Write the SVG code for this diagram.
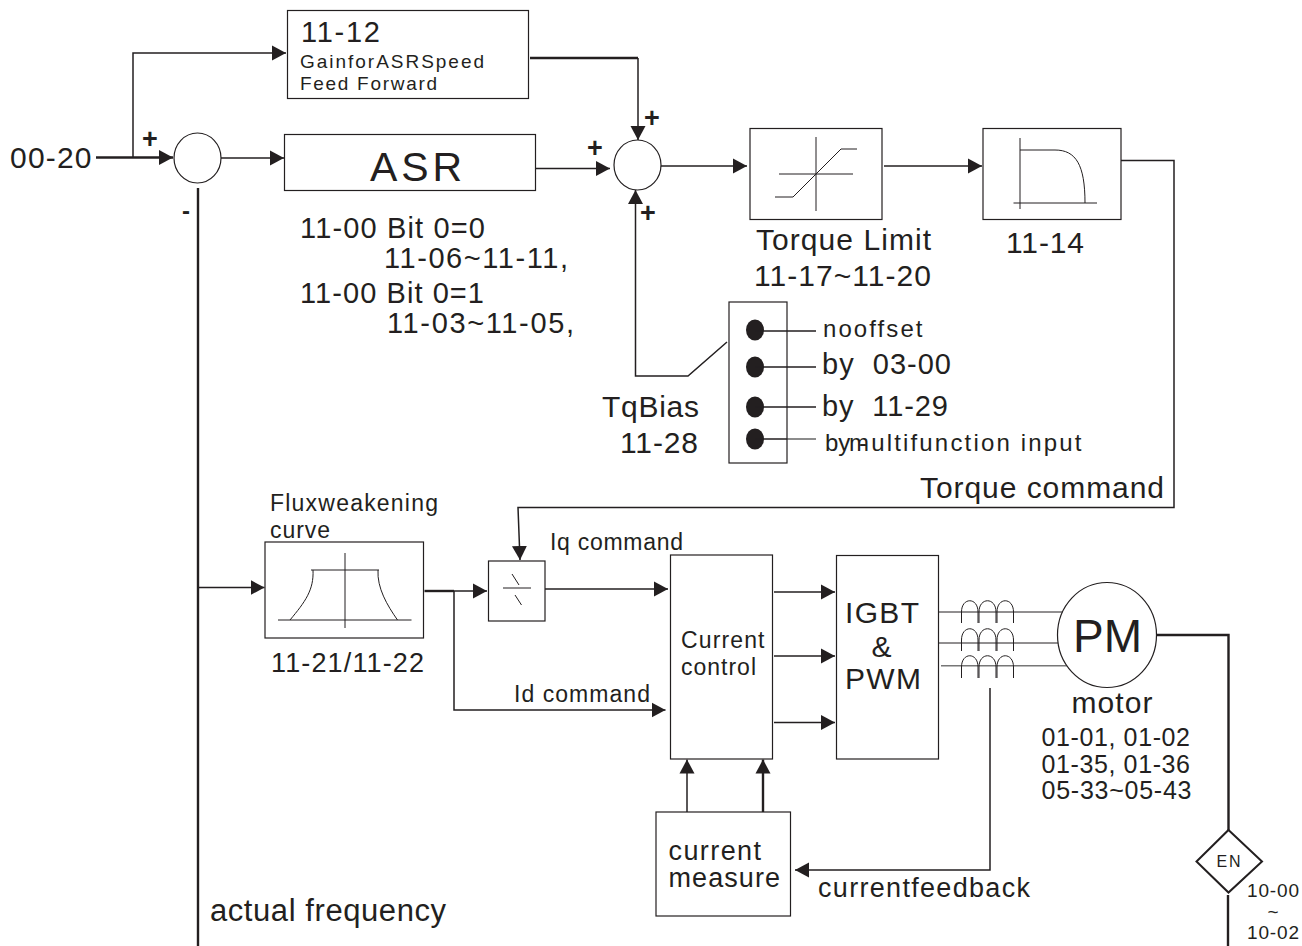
<svg xmlns="http://www.w3.org/2000/svg" width="1302" height="946" viewBox="0 0 1302 946">
<style>
text{font-family:"Liberation Sans",Arial,sans-serif;fill:#231f20}
.b{fill:#fff;stroke:#231f20;stroke-width:1.2}
.c{fill:none;stroke:#231f20;stroke-width:1.5}
.t{stroke-width:2.4}
.s{fill:none;stroke:#231f20;stroke-width:1}
.p{font-size:27px;font-weight:bold;text-anchor:middle}
</style>
<defs>
<marker id="ah" markerUnits="userSpaceOnUse" markerWidth="14" markerHeight="16" viewBox="0 0 14 16" refX="14" refY="8" orient="auto"><path d="M0 0.5L14 8L0 15.5Z" fill="#231f20"/></marker>
</defs>
<rect width="1302" height="946" fill="#fff"/>
<g id="connectors">
<path class="c" d="M133 157V53H286" marker-end="url(#ah)"/>
<path class="c t" d="M96 157.5H173" marker-end="url(#ah)"/>
<path class="c" d="M221 158H284" marker-end="url(#ah)"/>
<path class="c" d="M535.5 168.5H610" marker-end="url(#ah)"/>
<path class="c t" d="M530 58H638"/>
<path class="c" d="M638 58V140" marker-end="url(#ah)"/>
<path class="c t" d="M198 188V946"/>
<path class="c" d="M660 166H747" marker-end="url(#ah)"/>
<path class="c" d="M884 166H982" marker-end="url(#ah)"/>
<path class="c" d="M1121 160.5H1174V507.5H518L520 560" marker-end="url(#ah)"/>
<path class="c" d="M727 342L688 376H635.5V190" marker-end="url(#ah)"/>
<path class="c" d="M199 587.5H264.5" marker-end="url(#ah)"/>
<path class="c t" d="M424.5 591H454"/>
<path class="c" d="M454 591H487" marker-end="url(#ah)"/>
<path class="c" d="M454 591V710H665.5" marker-end="url(#ah)"/>
<path class="c" d="M545 589H668" marker-end="url(#ah)"/>
<path class="c" d="M774 592H835" marker-end="url(#ah)"/>
<path class="c" d="M774 656H835" marker-end="url(#ah)"/>
<path class="c" d="M774 722.5H835" marker-end="url(#ah)"/>
<path class="c" d="M687 812V759.5" marker-end="url(#ah)"/>
<path class="c t" d="M763 812V759.5" marker-end="url(#ah)"/>
<path class="c" d="M990 688V870H795" marker-end="url(#ah)"/>
<path class="c t" d="M1157 635H1228.5V830"/>
<path class="c t" d="M1228 895V946"/>
<path class="s" d="M938 612H1063M938 643H1058"/>
<path d="M941 665.7H1067" fill="none" stroke="#777" stroke-width="1.6"/>
<path class="c" d="M755 331H816M755 367H816M755 407H816"/>
<path d="M755 439H816" fill="none" stroke="#666" stroke-width="1.5"/>
</g>
<g id="gain"><rect class="b" x="287.5" y="10.5" width="241" height="88"/>
<text x="301" y="41.5" font-size="29" textLength="79">11-12</text>
<text x="300" y="67.5" font-size="19" textLength="184">GainforASRSpeed</text>
<text x="300" y="90" font-size="19" textLength="137">Feed Forward</text></g>
<g id="sum1"><ellipse class="b" cx="197.5" cy="158" rx="23.5" ry="25"/></g>
<g id="asr"><rect class="b" x="284.5" y="134.5" width="251" height="56"/>
<text x="370" y="181" font-size="41" textLength="92">ASR</text></g>
<g id="sum2"><ellipse class="b" cx="637.5" cy="165" rx="23.5" ry="25"/></g>
<g id="torque-limit"><rect class="b" x="750" y="128.5" width="132" height="91"/>
<path class="s" d="M816 137V211M779 174H853M775 197H793L841 149H857"/>
<text x="756" y="250" font-size="30" textLength="175">Torque Limit</text>
<text x="754" y="286" font-size="30" textLength="177">11-17~11-20</text></g>
<g id="curve-11-14"><rect class="b" x="983" y="128.5" width="138" height="91"/>
<path class="s" d="M1020 138V209M1013.5 203H1097M1020 150H1055C1076 150 1085 165 1085 203"/>
<text x="1006" y="253" font-size="30" textLength="78">11-14</text></g>
<g id="bias-select"><rect class="b" x="729" y="302" width="58" height="161"/>
<ellipse cx="755" cy="330" rx="9" ry="10.5" fill="#231f20"/>
<ellipse cx="755" cy="367" rx="9" ry="10.5" fill="#231f20"/>
<ellipse cx="755" cy="407" rx="9" ry="10.5" fill="#231f20"/>
<ellipse cx="755" cy="439" rx="9" ry="10.5" fill="#231f20"/>
<path d="M755 331H787M755 367H787M755 407H787M755 439H787" stroke="#231f20" stroke-width="1.5"/>
<text x="823" y="337" font-size="24" textLength="99.5">nooffset</text>
<text x="822" y="374" font-size="29" textLength="129" xml:space="preserve">by  03-00</text>
<text x="822" y="416" font-size="29" textLength="126" xml:space="preserve">by  11-29</text>
<text y="451" font-size="24"><tspan x="825">by</tspan><tspan x="859">-</tspan><tspan x="849" textLength="232.5">multifunction input</tspan></text></g>
<g id="flux"><rect class="b" x="265" y="542" width="158.5" height="96"/>
<path class="s" d="M345 553V628M278 620H411.5M311 570H379M313 570C314 590 305 602 290 620M378 570C377 588 387 605 397.5 620"/>
<text x="270" y="511" font-size="23" textLength="168">Fluxweakening</text>
<text x="270" y="538" font-size="23" textLength="60">curve</text>
<text x="271" y="672" font-size="27" textLength="153">11-21/11-22</text></g>
<g id="limiter"><rect class="b" x="488.5" y="561" width="56.5" height="60"/>
<path class="s" d="M503 588H531M512 574L519 585M515 595L521.5 605"/></g>
<g id="current-control"><rect class="b" x="670.5" y="555" width="102" height="204"/>
<text x="681" y="648" font-size="23" textLength="83.5">Current</text>
<text x="681" y="675" font-size="23" textLength="75">control</text></g>
<g id="igbt"><rect class="b" x="836.5" y="555.5" width="102" height="203.5"/>
<text x="845" y="622.5" font-size="30" textLength="74">IGBT</text>
<text x="871.5" y="656.5" font-size="30" textLength="19">&amp;</text>
<text x="845" y="688.5" font-size="30" textLength="76">PWM</text></g>
<g id="current-measure"><rect class="b" x="656" y="812" width="134.5" height="104"/>
<text x="668.5" y="860" font-size="27" textLength="92.5">current</text>
<text x="668.5" y="887" font-size="27" textLength="111.5">measure</text></g>
<g id="reactors"><path class="s" d="M961.5 623V612C961.5 597 978 597 978 612V623M979 623V612C979 597 996 597 996 612V623M997 623V612C997 597 1013.5 597 1013.5 612V623M961.5 651V640C961.5 625 978 625 978 640V651M979 651V640C979 625 996 625 996 640V651M997 651V640C997 625 1013.5 625 1013.5 640V651M961.5 678V667C961.5 652 978 652 978 667V678M979 678V667C979 652 996 652 996 667V678M997 678V667C997 652 1013.5 652 1013.5 667V678"/></g>
<g id="motor"><ellipse class="b" cx="1107" cy="635" rx="49.5" ry="52.5"/>
<text x="1073" y="652" font-size="46" textLength="69">PM</text>
<text x="1071.5" y="713" font-size="30" textLength="81">motor</text>
<text x="1041.5" y="746" font-size="25" textLength="148.5">01-01, 01-02</text>
<text x="1041.5" y="772.5" font-size="25" textLength="148.5">01-35, 01-36</text>
<text x="1041.5" y="798.5" font-size="25" textLength="150">05-33~05-43</text></g>
<g id="encoder"><path d="M1228.5 830L1262 861.5L1228.5 892.5L1196.5 861.5Z" fill="#fff" stroke="#231f20" stroke-width="2"/>
<text x="1216.5" y="867" font-size="16" textLength="24">EN</text>
<text x="1247" y="896.5" font-size="19" textLength="52">10-00</text>
<text x="1273" y="918" font-size="19" text-anchor="middle">~</text>
<text x="1247" y="939" font-size="19" textLength="52">10-02</text></g>
<g id="labels">
<text x="10" y="168" font-size="30" textLength="81.5">00-20</text>
<text class="p" x="150" y="148">+</text>
<text class="p" x="595" y="157">+</text>
<text class="p" x="652" y="127">+</text>
<text class="p" x="648" y="222">+</text>
<text x="186" y="219" font-size="24" font-weight="bold" text-anchor="middle">-</text>
<text x="300" y="238" font-size="29" textLength="185">11-00 Bit 0=0</text>
<text x="384" y="268" font-size="29" textLength="184">11-06~11-11,</text>
<text x="300" y="303" font-size="29" textLength="184">11-00 Bit 0=1</text>
<text x="387" y="333" font-size="29" textLength="187">11-03~11-05,</text>
<text x="602" y="417" font-size="30" textLength="97">TqBias</text>
<text x="620" y="453" font-size="30" textLength="78">11-28</text>
<text x="920" y="498" font-size="30" textLength="244">Torque command</text>
<text x="550" y="550" font-size="23" textLength="133">Iq command</text>
<text x="514" y="702" font-size="23" textLength="136">Id command</text>
<text x="210" y="921" font-size="31" textLength="236">actual frequency</text>
<text x="818" y="897" font-size="27" textLength="212">currentfeedback</text>
</g>
</svg>
